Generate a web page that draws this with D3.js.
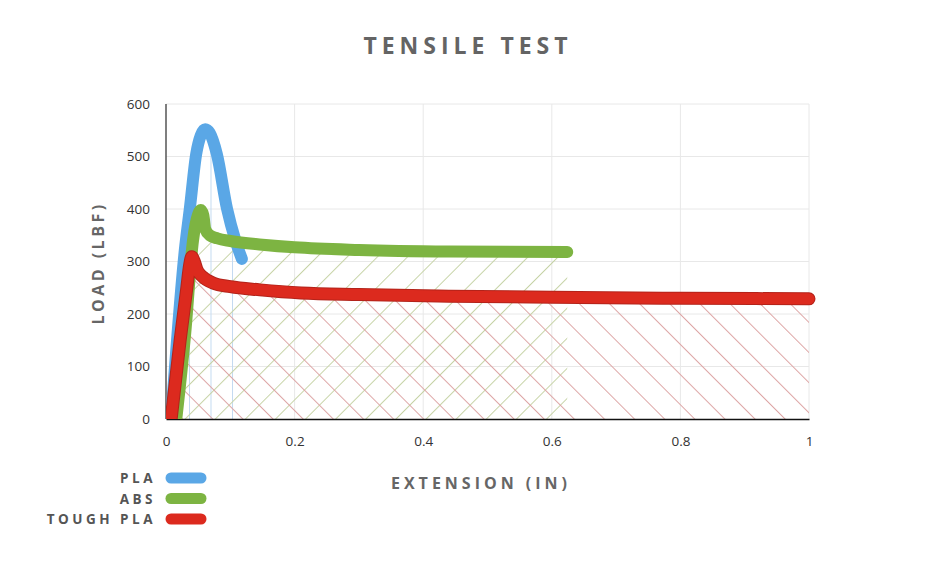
<!DOCTYPE html>
<html>
<head>
<meta charset="utf-8">
<script src="https://cdn.jsdelivr.net/npm/d3@7"></script>
<style>
  body { margin: 0; background: #fff; }
  svg { font-family: "Open Sans", "DejaVu Sans", sans-serif; }
</style>
</head>
<body>
<div id="chart"></div>
<script>
// données (extension en pouces, charge en lbf)
const plaExt = [0.008, 0.03, 0.037, 0.047, 0.054, 0.061, 0.068, 0.079, 0.095, 0.108, 0.118];
const plaLoad = [0, 330, 400, 505, 540, 552, 545, 505, 400, 340, 305];

const absExt = [0.016, 0.03, 0.042, 0.05, 0.054, 0.058, 0.061, 0.068, 0.08, 0.1, 0.15, 0.2, 0.3, 0.44, 0.624];
const absLoad = [0, 165, 340, 390, 398, 388, 362, 350, 344, 339, 332, 327, 322, 319, 318];

const toughExt = [0.008, 0.022, 0.032, 0.037, 0.04, 0.044, 0.048, 0.056, 0.073, 0.1, 0.146, 0.21, 0.3, 0.44, 0.6, 0.8, 1.0];
const toughLoad = [0, 150, 246, 295, 309, 300, 285, 272, 259, 252, 246, 240, 237, 234, 232, 230, 229];

const seriesNames = ['PLA', 'ABS', 'TOUGH PLA'];
const xTicks = [0, 0.2, 0.4, 0.6, 0.8, 1];
const yTicks = [0, 100, 200, 300, 400, 500, 600];

const width = 938, height = 563;
const margin = { top: 104, right: 129, bottom: 144, left: 166 };
const w = width - margin.left - margin.right;
const h = height - margin.top - margin.bottom;

const svg = d3.select('#chart').append('svg')
    .attr('width', width)
    .attr('height', height);

const defs = svg.append('defs');

// motifs de hachures
function hatch(id, color, angle, size) {
    const p = defs.append('pattern')
        .attr('id', id)
        .attr('patternUnits', 'userSpaceOnUse')
        .attr('width', size)
        .attr('height', size)
        .attr('x', 1.5)
        .attr('patternTransform', `rotate(${angle})`);
    p.append('line')
        .attr('x1', 0.5).attr('y1', 0)
        .attr('x2', 0.5).attr('y2', size)
        .attr('stroke', color)
        .attr('stroke-width', 1);
}
hatch('hatchPla', '#c3daf1', 0, 21.5);
hatch('hatchAbs', '#c6d3a6', 45, 21.3);
hatch('hatchTough', '#dda5a5', -45, 21.3);

// on coupe les courbes au niveau de l'axe des x
defs.append('clipPath')
    .attr('id', 'clipPlot')
    .append('rect')
    .attr('x', 0).attr('y', -30)
    .attr('width', w + 30).attr('height', h + 30);

const g = svg.append('g')
    .attr('transform', `translate(${margin.left},${margin.top})`);

const x = d3.scaleLinear().domain([0, 1]).range([0, w]);
const y = d3.scaleLinear().domain([0, 600]).range([h, 0]);

// grille
g.append('g')
    .selectAll('line')
    .data(yTicks.slice(1))
    .enter()
    .append('line')
    .attr('x1', 0).attr('x2', w)
    .attr('y1', d => y(d)).attr('y2', d => y(d))
    .attr('stroke', '#e8e8e8');

g.append('g')
    .selectAll('line')
    .data(xTicks.slice(1))
    .enter()
    .append('line')
    .attr('x1', d => x(d)).attr('x2', d => x(d))
    .attr('y1', 0).attr('y2', h)
    .attr('stroke', '#e8e8e8');

const series = [
    { name: seriesNames[0], ext: plaExt, load: plaLoad, color: '#5aa7e6', edge: null, hatch: 'hatchPla' },
    { name: seriesNames[1], ext: absExt, load: absLoad, color: '#7db442', edge: null, hatch: 'hatchAbs' },
    { name: seriesNames[2], ext: toughExt, load: toughLoad, color: '#dc2a1e', edge: '#b3231a', hatch: 'hatchTough' }
];

const area = d3.area()
    .x(d => x(d[0]))
    .y0(h)
    .y1(d => y(d[1]))
    .curve(d3.curveMonotoneX);

const line = d3.line()
    .x(d => x(d[0]))
    .y(d => y(d[1]))
    .curve(d3.curveMonotoneX);

// zones hachurées
series.forEach(s => {
    const pts = s.ext.map((e, i) => [e, s.load[i]]);
    g.append('path')
        .datum(pts)
        .attr('d', area)
        .attr('fill', `url(#${s.hatch})`);
});

// axes
g.append('line')
    .attr('x1', 0).attr('x2', 0)
    .attr('y1', 0).attr('y2', h)
    .attr('stroke', '#555')
    .attr('stroke-width', 1.5);

g.append('g')
    .attr('transform', `translate(0,${h})`)
    .call(d3.axisBottom(x).tickValues(xTicks).tickSize(0).tickPadding(17).tickFormat(d3.format('')))
    .call(a => a.select('.domain').attr('stroke', '#111').attr('stroke-width', 1.5))
    .selectAll('text')
    .attr('font-size', 13.5)
    .attr('fill', '#333')
    .attr('font-family', '"Open Sans", sans-serif');

g.append('g')
    .call(d3.axisLeft(y).tickValues(yTicks).tickSize(0).tickPadding(16))
    .call(a => a.select('.domain').remove())
    .selectAll('text')
    .attr('font-size', 13.5)
    .attr('fill', '#333')
    .attr('font-family', '"Open Sans", sans-serif');

// courbes
const curves = g.append('g').attr('clip-path', 'url(#clipPlot)');
series.forEach(s => {
    const pts = s.ext.map((e, i) => [e, s.load[i]]);
    if (s.edge) {
        curves.append('path')
            .datum(pts)
            .attr('d', line)
            .attr('fill', 'none')
            .attr('stroke', s.edge)
            .attr('stroke-width', 13)
            .attr('stroke-linecap', 'round')
            .attr('stroke-linejoin', 'round');
    }
    curves.append('path')
        .datum(pts)
        .attr('d', line)
        .attr('fill', 'none')
        .attr('stroke', s.color)
        .attr('stroke-width', s.edge ? 11 : 12)
        .attr('stroke-linecap', 'round')
        .attr('stroke-linejoin', 'round');
});

// titres
svg.append('text')
    .attr('x', 468)
    .attr('y', 54)
    .attr('text-anchor', 'middle')
    .attr('font-size', 23)
    .attr('font-weight', 'bold')
    .attr('letter-spacing', 5)
    .attr('fill', '#646464')
    .text('TENSILE TEST');

svg.append('text')
    .attr('x', 481)
    .attr('y', 489)
    .attr('text-anchor', 'middle')
    .attr('font-size', 16)
    .attr('font-weight', 'bold')
    .attr('letter-spacing', 4)
    .attr('fill', '#666')
    .text('EXTENSION (IN)');

svg.append('text')
    .attr('transform', 'translate(104,263) rotate(-90)')
    .attr('text-anchor', 'middle')
    .attr('font-size', 16)
    .attr('font-weight', 'bold')
    .attr('letter-spacing', 3.5)
    .attr('fill', '#666')
    .text('LOAD (LBF)');

// légende
const legend = svg.append('g');
series.forEach((s, i) => {
    const ly = 478 + i * 20.5;
    legend.append('text')
        .attr('x', 156)
        .attr('y', ly + 5)
        .attr('text-anchor', 'end')
        .attr('font-size', 13.5)
        .attr('font-weight', 'bold')
        .attr('letter-spacing', 3.5)
        .attr('fill', '#555')
        .text(s.name);
    legend.append('line')
        .attr('x1', 171).attr('x2', 201)
        .attr('y1', ly).attr('y2', ly)
        .attr('stroke', s.color)
        .attr('stroke-width', 11)
        .attr('stroke-linecap', 'round');
});
</script>
</body>
</html>
